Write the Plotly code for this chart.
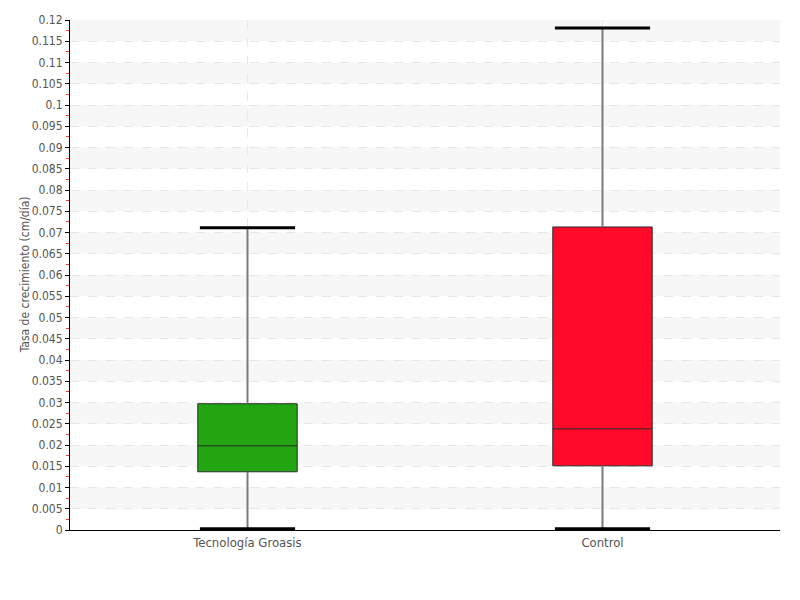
import plotly.graph_objects as go

# Datos (tasa de crecimiento, cm/día)
categorias = ["Tecnología Groasis", "Control"]
minimos = [0.0003, 0.0003]
q1 = [0.0137, 0.0151]
medianas = [0.0198, 0.0238]
q3 = [0.0297, 0.0713]
maximos = [0.0711, 0.1181]
colores = ["#22a511", "#ff0a28"]

y_ticks = [round(i * 0.005, 3) for i in range(25)]
y_labels = [("%g" % v) for v in y_ticks]

fig = go.Figure()

# bandas alternas del fondo
for i in range(1, len(y_ticks) - 1, 2):
    fig.add_hrect(y0=y_ticks[i], y1=y_ticks[i + 1],
                  fillcolor="#f7f7f7", line_width=0, layer="below")

# bigotes (solo fuera de la caja)
wx, wy = [], []
for cat, lo, a, b, hi in zip(categorias, minimos, q1, q3, maximos):
    wx += [cat, cat, None, cat, cat, None]
    wy += [lo, a, None, b, hi, None]
fig.add_trace(go.Scatter(
    x=wx, y=wy, mode="lines", connectgaps=False,
    line=dict(color="#7a7a7a", width=2),
    showlegend=False, hoverinfo="skip"
))

# cajas
for cat, a, m, b, c in zip(categorias, q1, medianas, q3, colores):
    fig.add_trace(go.Box(
        x=[cat], q1=[a], median=[m], q3=[b], lowerfence=[a], upperfence=[b],
        width=0.28, fillcolor=c,
        line=dict(color="#2a2a2a", width=1),
        whiskerwidth=0, showlegend=False, name=cat
    ))

# remates de los bigotes
fig.add_trace(go.Scatter(
    x=categorias + categorias, y=maximos + minimos, mode="markers",
    marker=dict(symbol="line-ew", size=68, line=dict(color="#000000", width=3)),
    showlegend=False, hoverinfo="skip"
))

font_fam = "DejaVu Sans Condensed, DejaVu Sans, sans-serif"

# título del eje Y
fig.add_annotation(
    text="Tasa de crecimiento (cm/día)", textangle=-90,
    xref="paper", yref="paper", x=-0.063, y=0.5,
    xanchor="center", yanchor="middle", showarrow=False,
    font=dict(size=12, color="#555555"),
)

fig.update_layout(
    width=800, height=600,
    margin=dict(l=70, r=20, t=20, b=70),
    paper_bgcolor="white", plot_bgcolor="white",
    font=dict(family=font_fam, color="#555555", size=12),
    xaxis=dict(
        type="category", range=[-0.5, 1.5], automargin=False,
        showline=True, linecolor="#000000", linewidth=1,
        showgrid=True, gridcolor="#e8e8e8", griddash="dash",
        ticks="", tickfont=dict(size=13, color="#555555"),
    ),
    yaxis=dict(
        range=[0, 0.12], tickvals=y_ticks, ticktext=y_labels, automargin=False,
        showline=True, linecolor="#000000", linewidth=1,
        ticks="outside", ticklen=4, tickcolor="#000000",
        showgrid=True, gridcolor="#e6e6e6", griddash="dash",
        zeroline=False,
        minor=dict(tickvals=[round(v + 0.0025, 4) for v in y_ticks[:-1]],
                   ticks="outside", ticklen=3, tickcolor="#ff3333", showgrid=False),
        tickfont=dict(size=12, color="#555555"),
    ),
)

fig.write_html("out.html", config={"displayModeBar": False},
               post_script="document.body.style.margin='0';")
